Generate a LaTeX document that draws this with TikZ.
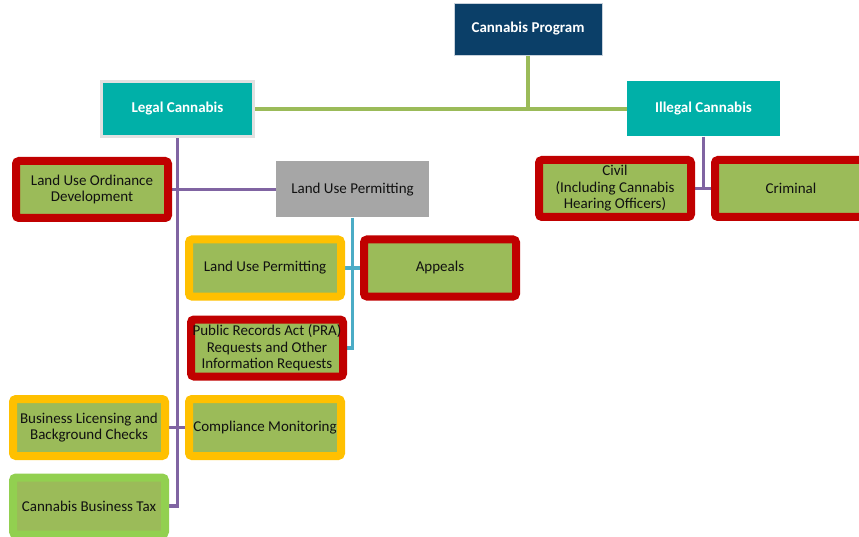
\documentclass[tikz,border=0pt]{standalone}
\usepackage{fontspec}
\setmainfont{Carlito}
\usetikzlibrary{backgrounds}
\definecolor{navy}{HTML}{0B3F68}
\definecolor{teal2}{HTML}{00B0A8}
\definecolor{olive}{HTML}{9BBB59}
\definecolor{redb}{HTML}{C00000}
\definecolor{orangeb}{HTML}{FFC000}
\definecolor{lgreen}{HTML}{92D050}
\definecolor{grayb}{HTML}{A6A6A6}
\definecolor{purp}{HTML}{8064A2}
\definecolor{blueb}{HTML}{4BACC6}
\definecolor{txt}{HTML}{111111}
\tikzset{
  every node/.style={font=\fontsize{15}{16.5}\selectfont, inner sep=0pt, align=center, text=txt},
  header/.style={fill=teal2, text=white, font=\fontsize{15}{16.5}\selectfont\bfseries, minimum width=153pt, minimum height=55pt},
  task/.style={fill=olive, line width=8pt, rounded corners=3pt, minimum width=152pt, minimum height=57pt},
  redbox/.style={task, draw=redb},
  orangebox/.style={task, draw=orangeb},
  greenbox/.style={task, draw=lgreen},
  conn/.style={line width=3.6pt},
}
\begin{document}
\begin{tikzpicture}[x=1pt,y=-1pt]
\useasboundingbox (0,0) rectangle (859,537);
\clip (0,0) rectangle (859,537);
% headers
\node[fill=navy, draw={rgb,255:red,200;green,210;blue,220}, line width=0.6pt, text=white, font=\fontsize{15}{16.5}\selectfont\bfseries, minimum width=148pt, minimum height=52pt] (cp) at (528,29) {Cannabis Program};
\node[header, draw={rgb,255:red,225;green,225;blue,225}, line width=3pt, minimum width=152pt] (legal) at (177.5,109) {Legal Cannabis};
\node[header] (illegal) at (703.5,109) {Illegal Cannabis};
% legal branch
\node[redbox] (lud) at (92,189.5) {Land Use Ordinance\\Development};
\node[fill=grayb, minimum width=153pt, minimum height=56pt] (lup) at (352.5,189.5) {Land Use Permitting};
\node[orangebox] (lupo) at (265,268) {Land Use Permitting};
\node[redbox] (appeals) at (440,268) {Appeals};
\node[redbox] (pra) at (267,348) {Public Records Act (PRA)\\Requests and Other\\Information Requests};
\node[orangebox] (bl) at (89,427.5) {Business Licensing and\\Background Checks};
\node[orangebox] (cm) at (265,427.5) {Compliance Monitoring};
\node[greenbox] (tax) at (89,506) {Cannabis Business Tax};
% illegal branch
\node[redbox] (civil) at (615,188.5) {Civil\\(Including Cannabis\\Hearing Officers)};
\node[redbox] (crim) at (791,188.5) {Criminal};
% connectors
\begin{pgfonlayer}{background}
\draw[conn, olive] (cp.south) -- (cp.south |- legal.east);
\draw[conn, olive] (legal.east) -- (illegal.west);
\draw[conn, purp] (legal.south) -- (legal.south |- tax.east) -- (tax.east);
\draw[conn, purp] (lud.east) -- (lup.west);
\draw[conn, purp] (bl.east) -- (cm.west);
\draw[conn, blueb] (lup.south) -- (lup.south |- pra.east) -- (pra.east);
\draw[conn, blueb] (lupo.east) -- (appeals.west);
\draw[conn, purp] (illegal.south) -- (illegal.south |- crim.west);
\draw[conn, purp] (civil.east) -- (crim.west);
\end{pgfonlayer}
\end{tikzpicture}
\end{document}
